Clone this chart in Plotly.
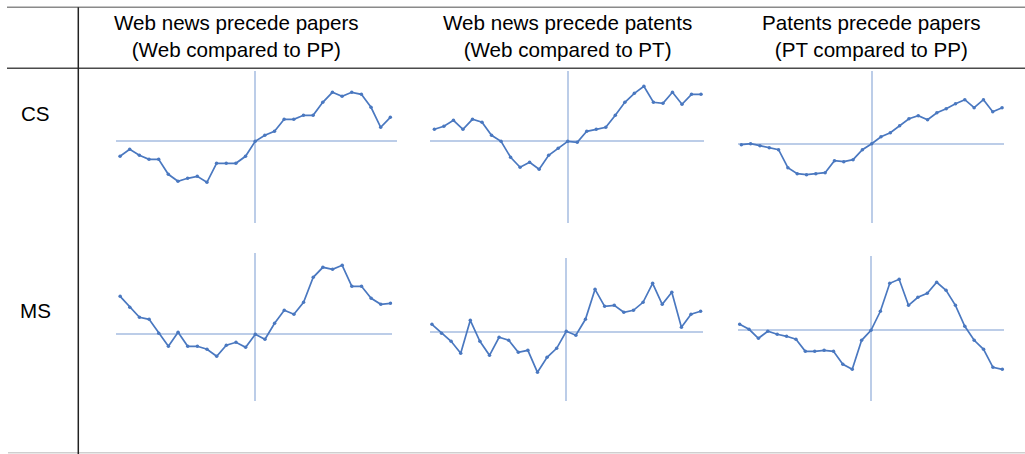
import plotly.graph_objects as go

# Lag (in periods) for every cross-correlation series
lags = [-14, -13, -12, -11, -10, -9, -8, -7, -6, -5, -4, -3, -2, -1, 0,
        1, 2, 3, 4, 5, 6, 7, 8, 9, 10, 11, 12, 13, 14]

column_titles = [
    "Web news precede papers<br>(Web compared to PP)",
    "Web news precede patents<br>(Web compared to PT)",
    "Patents precede papers<br>(PT compared to PP)",
]
row_labels = ["CS", "MS"]

# CS row
cs_web_pp = [-0.15, -0.08, -0.14, -0.18, -0.18, -0.33, -0.40, -0.37, -0.35, -0.41,
             -0.22, -0.22, -0.22, -0.15, 0.00, 0.06, 0.10, 0.22, 0.22, 0.26,
             0.26, 0.39, 0.49, 0.45, 0.49, 0.47, 0.34, 0.14, 0.24]
cs_web_pt = [0.12, 0.15, 0.21, 0.12, 0.22, 0.19, 0.06, 0.00, -0.16, -0.26,
             -0.21, -0.28, -0.14, -0.07, 0.00, -0.01, 0.10, 0.12, 0.14, 0.26,
             0.39, 0.48, 0.55, 0.39, 0.38, 0.49, 0.37, 0.47, 0.47]
cs_pt_pp = [-0.01, 0.00, -0.02, -0.04, -0.06, -0.24, -0.30, -0.31, -0.30, -0.29,
            -0.17, -0.18, -0.16, -0.06, 0.00, 0.07, 0.11, 0.18, 0.25, 0.28,
            0.24, 0.31, 0.35, 0.40, 0.44, 0.36, 0.44, 0.32, 0.36]

# MS row
ms_web_pp = [0.38, 0.27, 0.17, 0.15, 0.01, -0.12, 0.02, -0.12, -0.12, -0.15,
             -0.22, -0.11, -0.08, -0.13, 0.00, -0.05, 0.11, 0.24, 0.20, 0.32,
             0.57, 0.67, 0.65, 0.69, 0.48, 0.48, 0.36, 0.30, 0.31]
ms_web_pt = [0.08, -0.01, -0.09, -0.21, 0.12, -0.09, -0.23, -0.05, -0.08, -0.20,
             -0.18, -0.40, -0.25, -0.16, 0.01, -0.03, 0.13, 0.43, 0.26, 0.27,
             0.20, 0.22, 0.30, 0.49, 0.28, 0.40, 0.05, 0.18, 0.21]
ms_pt_pp = [0.06, 0.01, -0.08, -0.01, -0.04, -0.06, -0.09, -0.21, -0.21, -0.20,
            -0.21, -0.34, -0.39, -0.10, 0.00, 0.19, 0.47, 0.51, 0.25, 0.33,
            0.37, 0.48, 0.40, 0.25, 0.04, -0.10, -0.19, -0.37, -0.39]

series = [cs_web_pp, cs_web_pt, cs_pt_pp, ms_web_pp, ms_web_pt, ms_pt_pp]

W, H = 1025, 454

# Panel boxes in pixels: (left, right, top, bottom), plus axis ranges
panels = [
    dict(box=(115.7, 396.7, 70.7, 223.3), xr=(-14.45, 14.66), yr=(-0.82, 0.706)),
    dict(box=(430.0, 703.7, 70.7, 223.3), xr=(-14.46, 14.28), yr=(-0.82, 0.706)),
    dict(box=(737.7, 1004.3, 70.7, 223.3), xr=(-14.39, 14.24), yr=(-0.796, 0.73)),
    dict(box=(115.7, 392.3, 253.3, 401.0), xr=(-14.46, 14.19), yr=(-0.667, 0.81)),
    dict(box=(430.0, 703.3, 258.3, 401.0), xr=(-14.20, 14.28), yr=(-0.687, 0.74)),
    dict(box=(737.7, 1004.3, 256.0, 401.0), xr=(-14.21, 14.21), yr=(-0.707, 0.743)),
]

LINE = "#4a78c0"
ZERO = "#bccde8"
FONT = "Liberation Sans, Arial, sans-serif"

fig = go.Figure()
layout = dict(
    width=W, height=H,
    margin=dict(l=0, r=0, t=0, b=0),
    paper_bgcolor="white", plot_bgcolor="rgba(0,0,0,0)",
    showlegend=False,
)

for i, (p, ys) in enumerate(zip(panels, series)):
    n = i + 1
    xa = "x" if n == 1 else f"x{n}"
    ya = "y" if n == 1 else f"y{n}"
    left, right, top, bottom = p["box"]
    fig.add_trace(go.Scatter(
        x=lags, y=ys, xaxis=xa, yaxis=ya, mode="lines+markers",
        line=dict(color=LINE, width=1.7),
        marker=dict(color=LINE, size=3.5),
        hoverinfo="skip",
    ))
    axis_common = dict(showgrid=False, showticklabels=False, ticks="",
                       showline=False, zeroline=True, zerolinecolor=ZERO,
                       zerolinewidth=1.6, fixedrange=True)
    layout[f"xaxis{'' if n == 1 else n}"] = dict(
        domain=[left / W, right / W], range=list(p["xr"]),
        anchor=ya, **axis_common)
    layout[f"yaxis{'' if n == 1 else n}"] = dict(
        domain=[1 - bottom / H, 1 - top / H], range=list(p["yr"]),
        anchor=xa, **axis_common)

fig.update_layout(**layout)

# Table rules
def hline(y, x0, x1, color, width):
    fig.add_shape(type="line", xref="paper", yref="paper",
                  x0=x0 / W, x1=x1 / W, y0=1 - y / H, y1=1 - y / H,
                  line=dict(color=color, width=width))

hline(7.3, 7, W, "#8a8a8a", 1.5)
hline(68.3, 7, W, "#4a4a4a", 1.5)
hline(452.7, 8, W, "#cfcfcf", 1.5)
fig.add_shape(type="line", xref="paper", yref="paper",
              x0=78.3 / W, x1=78.3 / W, y0=0, y1=1 - 7.3 / H,
              line=dict(color="#222222", width=1.5))

# Column headers
for title, cx in zip(column_titles, [236.5, 567.5, 871.0]):
    fig.add_annotation(text=title, x=cx / W, y=1 - 36.0 / H, xref="paper",
                       yref="paper", showarrow=False, xanchor="center",
                       yanchor="middle", align="center",
                       font=dict(family=FONT, size=20.6, color="black"))

# Row labels
for label, cy in zip(row_labels, [113.5, 310.0]):
    fig.add_annotation(text=label, x=35 / W, y=1 - cy / H, xref="paper",
                       yref="paper", showarrow=False, xanchor="center",
                       yanchor="middle",
                       font=dict(family=FONT, size=20.6, color="black"))

fig.write_html("out.html")
